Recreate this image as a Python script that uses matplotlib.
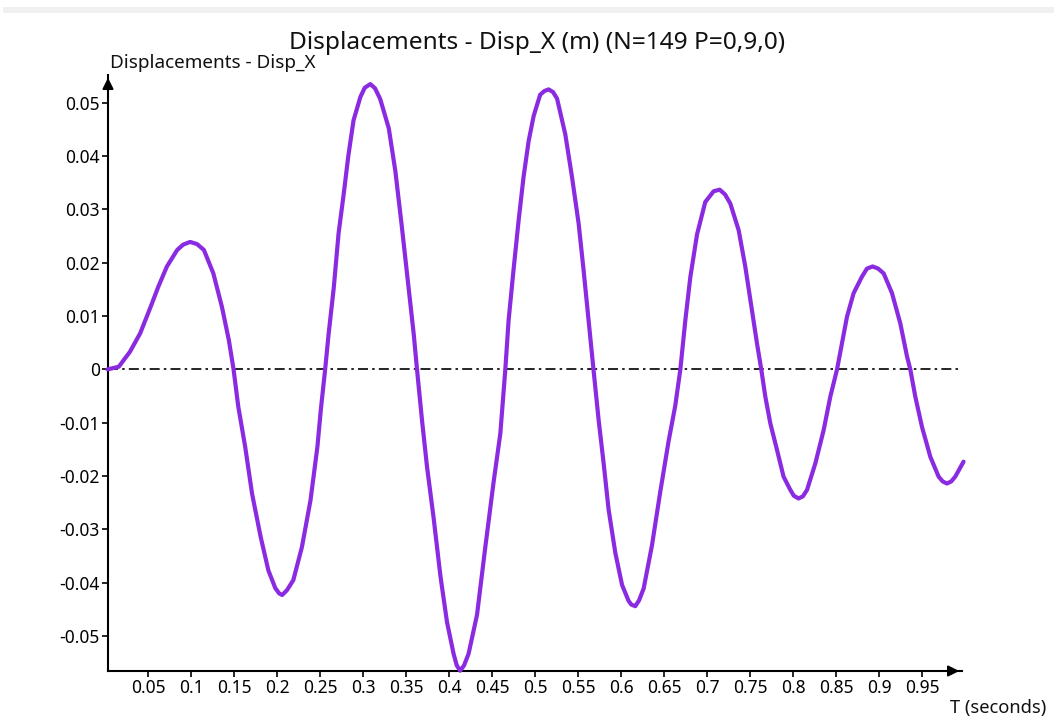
import numpy as np
import matplotlib
matplotlib.use('Agg')
import matplotlib.pyplot as plt
from matplotlib.patches import Rectangle

plt.rcParams['font.family'] = ['Noto Sans', 'DejaVu Sans']
plt.rcParams['axes.unicode_minus'] = False

# courbe : temps (s) et deplacement (m)
temps = [0.003, 0.016, 0.029, 0.041, 0.053, 0.062, 0.072, 0.084, 0.091, 0.099,
         0.107, 0.115, 0.126, 0.136, 0.144, 0.1495, 0.155, 0.163, 0.171, 0.181,
         0.190, 0.198, 0.2025, 0.206, 0.2116, 0.219, 0.229, 0.239, 0.243, 0.247,
         0.251, 0.256, 0.260, 0.266, 0.2716, 0.2775, 0.283, 0.289, 0.297, 0.302,
         0.3085, 0.314, 0.320, 0.330, 0.3376, 0.345, 0.353, 0.359, 0.3628, 0.3686,
         0.3744, 0.382, 0.390, 0.3977, 0.4053, 0.409, 0.413, 0.4175, 0.4228, 0.4326,
         0.442, 0.4518, 0.4597, 0.4655, 0.4693, 0.475, 0.481, 0.4867, 0.4926, 0.4984,
         0.506, 0.511, 0.5158, 0.521, 0.5256, 0.5352, 0.543, 0.5507, 0.5565, 0.5623,
         0.568, 0.574, 0.5798, 0.5856, 0.5934, 0.6012, 0.6088, 0.612, 0.6166, 0.621,
         0.6263, 0.636, 0.6457, 0.6553, 0.6631, 0.669, 0.6748, 0.6806, 0.6884, 0.698,
         0.7077, 0.7147, 0.721, 0.7271, 0.7368, 0.7445, 0.7523, 0.7581, 0.7631, 0.7678,
         0.7736, 0.7814, 0.789, 0.7969, 0.801, 0.8065, 0.8115, 0.8163, 0.826, 0.8356,
         0.8434, 0.8512, 0.857, 0.8628, 0.8705, 0.8802, 0.886, 0.8926, 0.899, 0.9054,
         0.9151, 0.9248, 0.9326, 0.9364, 0.9422, 0.950, 0.9597, 0.9693, 0.974, 0.979,
         0.984, 0.9887, 0.9983]
disp_x = [0.0, 0.0005, 0.0033, 0.0068, 0.0117, 0.0155, 0.0193, 0.0224, 0.0234, 0.0239,
          0.0235, 0.0224, 0.0180, 0.0117, 0.0055, 0.0, -0.0070, -0.0145, -0.0233, -0.0314,
          -0.0377, -0.0410, -0.0420, -0.0423, -0.0414, -0.0395, -0.0333, -0.0245, -0.0195, -0.0145,
          -0.0075, 0.0, 0.0066, 0.0153, 0.0255, 0.0328, 0.0401, 0.0467, 0.0511, 0.0528,
          0.0535, 0.0527, 0.0507, 0.0452, 0.0372, 0.0270, 0.0153, 0.0066, 0.0, -0.0095,
          -0.0182, -0.0277, -0.0387, -0.0474, -0.0533, -0.0555, -0.0565, -0.0555, -0.0533, -0.0460,
          -0.0336, -0.0212, -0.0120, 0.0, 0.0092, 0.0186, 0.0280, 0.0361, 0.0428, 0.0475,
          0.0515, 0.0522, 0.0525, 0.0520, 0.0508, 0.0441, 0.0361, 0.0274, 0.0186, 0.0092,
          0.0, -0.0095, -0.0176, -0.0263, -0.0344, -0.0404, -0.0434, -0.0441, -0.0444, -0.0433,
          -0.0411, -0.0330, -0.0229, -0.0135, -0.0068, 0.0, 0.0092, 0.0173, 0.0253, 0.0314,
          0.0334, 0.0337, 0.0328, 0.0311, 0.0261, 0.0193, 0.0111, 0.0049, 0.0, -0.0051,
          -0.0101, -0.0151, -0.0201, -0.0226, -0.0237, -0.0242, -0.0238, -0.0226, -0.0176, -0.0114,
          -0.0051, 0.0, 0.0049, 0.0099, 0.0143, 0.0174, 0.0189, 0.0193, 0.0189, 0.0180,
          0.0143, 0.0086, 0.0024, 0.0, -0.0051, -0.0108, -0.0164, -0.0201, -0.0210, -0.0214,
          -0.0210, -0.0201, -0.0173]

xticks = [0.05, 0.1, 0.15, 0.2, 0.25, 0.3, 0.35, 0.4, 0.45, 0.5,
          0.55, 0.6, 0.65, 0.7, 0.75, 0.8, 0.85, 0.9, 0.95]
yticks = [-0.05, -0.04, -0.03, -0.02, -0.01, 0, 0.01, 0.02, 0.03, 0.04, 0.05]

titre = 'Displacements - Disp_X (m) (N=149 P=0,9,0)'
label_y = 'Displacements - Disp_X'
label_x = 'T (seconds)'

W, H = 1054, 722
fig = plt.figure(figsize=(W / 100, H / 100), dpi=100)
fig.patch.set_facecolor('white')

# bande grise en haut de la fenetre
fig.patches.append(Rectangle((3 / W, 1 - 13 / H), 1, 6 / H, transform=fig.transFigure,
                             facecolor='#f0f0f0', edgecolor='none'))

# axes : gauche 108 px, droite 962 px, bas 671 px, haut 75 px
ax = fig.add_axes([108 / W, 1 - 671 / H, (962 - 108) / W, (671 - 75) / H])
ax.set_xlim(0.0035, 0.9965)
ax.set_ylim(-0.05655, 0.0552)

ax.axhline(0, color='black', lw=1.2, linestyle=(0, (6, 2.5, 1.5, 2.5)), zorder=1)
ax.plot(temps, disp_x, color='#8a2be2', lw=3.0, solid_capstyle='round',
        solid_joinstyle='round', clip_on=False, zorder=3)

for s in ['top', 'right']:
    ax.spines[s].set_visible(False)
for s in ['left', 'bottom']:
    ax.spines[s].set_linewidth(1.5)
    ax.spines[s].set_color('black')

ax.set_xticks(xticks)
ax.set_xticklabels(['%g' % v for v in xticks])
ax.set_yticks(yticks)
ax.set_yticklabels(['%g' % v for v in yticks])
ax.tick_params(direction='out', length=4, width=1.2, labelsize=12.5, pad=2, colors='black')

# fleches au bout des axes
ax.annotate('', xy=(0, 1), xytext=(0, 0.97), xycoords='axes fraction',
            arrowprops=dict(arrowstyle='-|>', color='black', lw=1.5, mutation_scale=16))
ax.annotate('', xy=(1, 0), xytext=(0.98, 0), xycoords='axes fraction',
            arrowprops=dict(arrowstyle='-|>', color='black', lw=1.5, mutation_scale=16))

fig.text(537 / W, 1 - 43 / H, titre, ha='center', va='center', fontsize=17.6, color='#111111')
fig.text(110 / W, 1 - 63 / H, label_y, ha='left', va='center', fontsize=13.6, color='#111111')
fig.text(1046 / W, 1 - 708 / H, label_x, ha='right', va='center', fontsize=13.2, color='#111111')

fig.savefig('out.png', dpi=100)
